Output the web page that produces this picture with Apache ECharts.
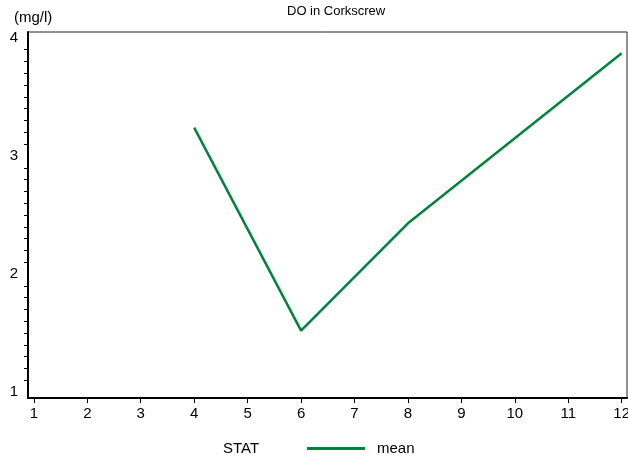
<!DOCTYPE html>
<html>
<head>
<meta charset="utf-8">
<script src="https://cdn.jsdelivr.net/npm/echarts@6/dist/echarts.min.js"></script>
<style>
  html, body { margin: 0; padding: 0; background: #fff; }
  #chart { width: 628px; height: 459px; }
</style>
</head>
<body>
<div id="chart"></div>
<script>
// values
const months = [4, 6, 8, 12]
const meanDO = [3.24, 1.52, 2.43, 3.87]
const xTicks = [1, 2, 3, 4, 5, 6, 7, 8, 9, 10, 11, 12]
const yTicks = [1, 2, 3, 4]

const FONT = 'Liberation Sans, Arial, sans-serif'
const GREEN = '#00843d'

// minor ticks every 0.1 between the labelled values
const yMinor = []
for (let i = 10; i <= 40; i++) {
    if (i % 10 !== 0) yMinor.push(i / 10)
}

const chart = echarts.init(document.getElementById('chart'), null, { renderer: 'canvas' })

chart.setOption({
    backgroundColor: '#fff',
    animation: false,
    title: {
        text: 'DO in Corkscrew',
        left: 282,
        top: 0,
        textStyle: { fontFamily: FONT, fontSize: 13, fontWeight: 'normal', color: '#000' }
    },
    graphic: [
        {
            type: 'text',
            left: 14,
            top: 10,
            style: { text: '(mg/l)', font: '15px ' + FONT, fill: '#000' }
        },
        {
            type: 'text',
            left: 223,
            top: 441,
            style: { text: 'STAT', font: '15px ' + FONT, fill: '#000' }
        }
    ],
    legend: {
        data: ['mean'],
        left: 302,
        top: 436,
        icon: 'rect',
        itemWidth: 58,
        itemHeight: 3,
        textStyle: { fontFamily: FONT, fontSize: 15, color: '#000', padding: [2, 0, 0, 7] }
    },
    grid: {
        left: 28,
        right: 1,
        top: 32,
        bottom: 61,
        outerBoundsMode: 'none',
        show: true,
        borderColor: '#222',
        borderWidth: 1
    },
    xAxis: {
        type: 'value',
        min: 0.89,
        max: 12.1,
        axisLine: { show: true, lineStyle: { color: '#000', width: 2 } },
        axisTick: { show: true, length: 5, customValues: xTicks, lineStyle: { color: '#000', width: 1 } },
        axisLabel: { customValues: xTicks, margin: 8, fontFamily: FONT, fontSize: 15, color: '#000' },
        splitLine: { show: false }
    },
    yAxis: {
        type: 'value',
        min: 0.95,
        max: 4.05,
        axisLine: { show: true, lineStyle: { color: '#000', width: 2 } },
        axisTick: { show: true, length: 4, customValues: yMinor, lineStyle: { color: '#000', width: 1 } },
        axisLabel: { customValues: yTicks, margin: 10, fontFamily: FONT, fontSize: 15, color: '#000' },
        splitLine: { show: false }
    },
    series: [
        {
            name: 'mean',
            type: 'line',
            data: months.map((m, i) => [m, meanDO[i]]),
            symbol: 'none',
            showSymbol: false,
            lineStyle: { width: 2.5, color: GREEN },
            itemStyle: { color: GREEN }
        }
    ]
})
</script>
</body>
</html>
